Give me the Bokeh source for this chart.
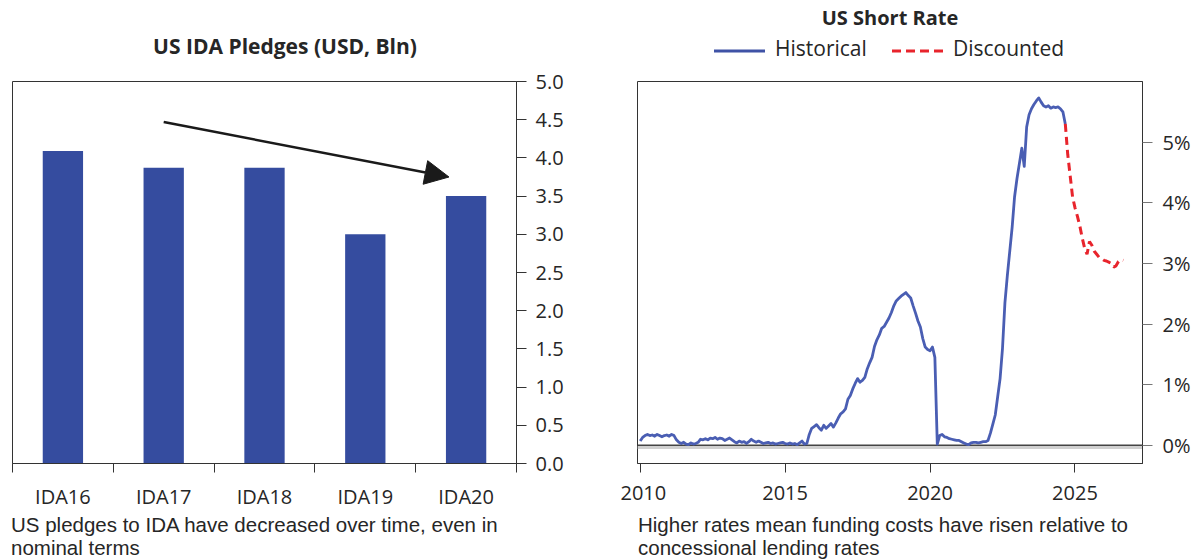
from bokeh.plotting import figure
from bokeh.models import (Range1d, LinearAxis, FixedTicker, Arrow, NormalHead, Div,
                          Span, CustomJSTickFormatter, NumeralTickFormatter)
from bokeh.layouts import row, column
from bokeh.embed import file_html
from bokeh.resources import INLINE

FONT = "Open Sans"
NOTE_FONT = "Liberation Sans"
INK = "#262626"

# ---------------- data: left chart ----------------
categories = ["IDA16", "IDA17", "IDA18", "IDA19", "IDA20"]
pledges_bln = [4.09, 3.87, 3.87, 3.00, 3.50]
pledge_ticks = [0.0, 0.5, 1.0, 1.5, 2.0, 2.5, 3.0, 3.5, 4.0, 4.5, 5.0]

# ---------------- data: right chart ----------------
hist_first_year = 2010  # monthly observations, Jan 2010 .. Sep 2024
hist_rate = [
    0.07, 0.13, 0.16, 0.18, 0.16, 0.17, 0.15, 0.18, 0.16, 0.14, 0.16, 0.17,  # 2010
    0.15, 0.18, 0.16, 0.09, 0.05, 0.03, 0.05, 0.02, 0.01, 0.04, 0.02, 0.03,  # 2011
    0.05, 0.10, 0.09, 0.11, 0.09, 0.12, 0.11, 0.13, 0.10, 0.12, 0.11, 0.08,  # 2012
    0.10, 0.12, 0.09, 0.06, 0.04, 0.07, 0.05, 0.06, 0.03, 0.06, 0.10, 0.07,  # 2013
    0.05, 0.07, 0.05, 0.03, 0.04, 0.05, 0.03, 0.04, 0.02, 0.03, 0.04, 0.05,  # 2014
    0.03, 0.02, 0.04, 0.02, 0.03, 0.01, 0.04, 0.07, 0.02, 0.03, 0.18, 0.28,  # 2015
    0.31, 0.34, 0.29, 0.25, 0.33, 0.28, 0.32, 0.36, 0.30, 0.37, 0.45, 0.52,  # 2016
    0.55, 0.60, 0.76, 0.82, 0.93, 1.02, 1.10, 1.04, 1.07, 1.12, 1.26, 1.36,  # 2017
    1.45, 1.63, 1.74, 1.82, 1.93, 1.96, 2.03, 2.10, 2.19, 2.30, 2.38, 2.42,  # 2018
    2.46, 2.49, 2.52, 2.47, 2.43, 2.30, 2.18, 2.05, 1.95, 1.76, 1.62, 1.58,  # 2019
    1.56, 1.62, 1.45, 0.02, 0.16, 0.18, 0.14, 0.13, 0.11, 0.10, 0.09, 0.08,  # 2020
    0.08, 0.06, 0.04, 0.02, 0.01, 0.04, 0.05, 0.05, 0.04, 0.05, 0.06, 0.06,  # 2021
    0.08, 0.20, 0.35, 0.50, 0.80, 1.10, 1.60, 2.35, 2.80, 3.20, 3.60, 4.10,  # 2022
    4.40, 4.65, 4.90, 4.60, 5.25, 5.45, 5.55, 5.62, 5.68, 5.73, 5.66, 5.60,  # 2023
    5.58, 5.60, 5.56, 5.58, 5.57, 5.58, 5.55, 5.50, 5.30,                    # 2024
]
# market-discounted path, monthly from Sep 2024 .. Sep 2026
disc_rate = [5.30, 4.80, 4.45, 4.10, 3.92, 3.78, 3.62, 3.42, 3.25, 3.15, 3.36, 3.30,
             3.20, 3.15, 3.10, 3.08, 3.05, 3.04, 3.02, 3.00, 2.94, 2.96, 3.03, 3.06, 3.05]
rate_ticks = [0, 1, 2, 3, 4, 5]
year_ticks = [2010, 2015, 2020, 2025]

BAR_BLUE = "#354C9F"
LINE_BLUE = "#4A5EB3"
LEG_BLUE = "#3F52A6"
RED = "#E8242C"

W1, W2 = 620, 580
TOP_H, PLOT_H, FOOT_H = 66, 446, 48


def style_axis(ax):
    ax.axis_line_color = "#333333"
    ax.major_label_text_font = FONT
    ax.major_label_text_font_size = "20px"
    ax.major_label_text_color = INK


def box(inner, w, h):
    return Div(text=f'<div style="position:relative;width:{w}px;height:{h}px;'
                    f'font-family:\'{FONT}\';color:{INK};white-space:nowrap;">{inner}</div>',
               width=w, height=h, margin=0)


def abs_text(left, top, text, size=20, bold=False, width=None, align="left", lh=28, font=None):
    wcss = f"width:{width}px;" if width else ""
    fcss = f"font-family:'{font}';" if font else ""
    weight = "bold" if bold else "normal"
    return (f'<div style="position:absolute;left:{left}px;top:{top}px;{wcss}{fcss}text-align:{align};'
            f'font-size:{size}px;line-height:{lh}px;font-weight:{weight};">{text}</div>')


def legend_line(left, top, color, dash=None):
    d = f' stroke-dasharray="{dash}"' if dash else ""
    return (f'<svg style="position:absolute;left:{left}px;top:{top}px;" width="51" height="6">'
            f'<line x1="0" y1="3" x2="51" y2="3" stroke="{color}" stroke-width="3"{d}/></svg>')


# ================= left: US IDA pledges =================
p1 = figure(width=W1, height=PLOT_H, x_range=Range1d(0, len(categories)), y_range=Range1d(0, 5),
            output_backend="svg", toolbar_location=None,
            x_axis_location=None, y_axis_location=None,
            min_border_left=12, min_border_right=104, min_border_top=15, min_border_bottom=48)
for g in p1.grid:
    g.visible = False
p1.outline_line_color = "#333333"
p1.outline_line_width = 1

bar_x = [i + 0.5 for i in range(len(categories))]
p1.vbar(x=bar_x, top=pledges_bln, width=0.4, bottom=0, fill_color=BAR_BLUE, line_color=None)

xax = LinearAxis(ticker=FixedTicker(ticks=bar_x, minor_ticks=list(range(len(categories) + 1))),
                 formatter=CustomJSTickFormatter(args=dict(labels=categories),
                                                 code="return labels[Math.floor(tick)];"))
style_axis(xax)
xax.major_tick_line_color = None
xax.major_tick_out = 0
xax.major_tick_in = 0
xax.minor_tick_line_color = "#333333"
xax.minor_tick_out = 9
xax.minor_tick_in = 0
xax.major_label_standoff = 10
p1.add_layout(xax, "below")

yax = LinearAxis(ticker=FixedTicker(ticks=pledge_ticks), formatter=NumeralTickFormatter(format="0.0"))
style_axis(yax)
yax.major_tick_line_color = "#333333"
yax.major_tick_out = 10
yax.major_tick_in = 0
yax.minor_tick_line_color = None
yax.major_label_standoff = 9
p1.add_layout(yax, "right")

p1.add_layout(Arrow(end=NormalHead(size=24, fill_color="#1a1a1a", line_color="#1a1a1a"),
                    x_start=bar_x[1], y_start=4.47, x_end=4.33, y_end=3.75,
                    line_color="#1a1a1a", line_width=2.5))

# ================= right: US short rate =================
p2 = figure(width=W2, height=PLOT_H, x_range=Range1d(2009.907, 2027.33), y_range=Range1d(-0.30, 6.0),
            output_backend="svg", toolbar_location=None,
            x_axis_location=None, y_axis_location=None,
            min_border_left=17, min_border_right=58, min_border_top=15, min_border_bottom=49)
for g in p2.grid:
    g.visible = False
p2.outline_line_color = "#333333"
p2.outline_line_width = 1

p2.add_layout(Span(location=-0.035, dimension="width", line_color="#d0d0d0", line_width=3, level="underlay"))
p2.add_layout(Span(location=0, dimension="width", line_color="#444444", line_width=1.6, level="underlay"))

hist_x = [hist_first_year + i / 12 for i in range(len(hist_rate))]
disc_x = [hist_x[-1] + i / 12 for i in range(len(disc_rate))]
p2.line(hist_x, hist_rate, line_color=LINE_BLUE, line_width=2.8, line_join="round")
p2.line(disc_x, disc_rate, line_color=RED, line_width=3, line_dash="8 5")

bx = LinearAxis(ticker=FixedTicker(ticks=year_ticks),
                formatter=CustomJSTickFormatter(code="return tick.toFixed(0);"))
style_axis(bx)
bx.major_tick_line_color = "#333333"
bx.major_tick_out = 9
bx.major_tick_in = 0
bx.minor_tick_line_color = None
bx.major_label_standoff = 13
p2.add_layout(bx, "below")

ry = LinearAxis(ticker=FixedTicker(ticks=rate_ticks),
                formatter=CustomJSTickFormatter(code="return tick.toFixed(0) + '%';"))
style_axis(ry)
ry.major_tick_line_color = "#777777"
ry.major_tick_out = 10
ry.major_tick_in = 0
ry.minor_tick_line_color = None
ry.major_label_standoff = 10
p2.add_layout(ry, "right")

# ================= titles, legend, notes =================
top_left = box(abs_text(0, 32, "US IDA Pledges (USD, Bln)", size=21, bold=True, width=570, align="center"),
               W1, TOP_H)
top_right = box(
    abs_text(0, 4, "US Short Rate", size=20, bold=True, width=540, align="center")
    + legend_line(94, 48, LEG_BLUE)
    + abs_text(155, 34, "Historical", size=21)
    + legend_line(272, 48, RED, dash="9 5")
    + abs_text(333, 34, "Discounted", size=21),
    W2, TOP_H)
foot_left = box(abs_text(11, 1, "US pledges to IDA have decreased over time, even in", size=20.5, lh=23, font=NOTE_FONT)
                + abs_text(11, 24, "nominal terms", size=20.5, lh=23, font=NOTE_FONT), W1, FOOT_H)
foot_right = box(abs_text(18, 1, "Higher rates mean funding costs have risen relative to", size=20.5, lh=23, font=NOTE_FONT)
                 + abs_text(18, 24, "concessional lending rates", size=20.5, lh=23, font=NOTE_FONT), W2, FOOT_H)

layout = column(row(top_left, top_right, spacing=0),
                row(p1, p2, spacing=0),
                row(foot_left, foot_right, spacing=0), spacing=0)
open("out.html", "w").write(file_html(layout, INLINE))
